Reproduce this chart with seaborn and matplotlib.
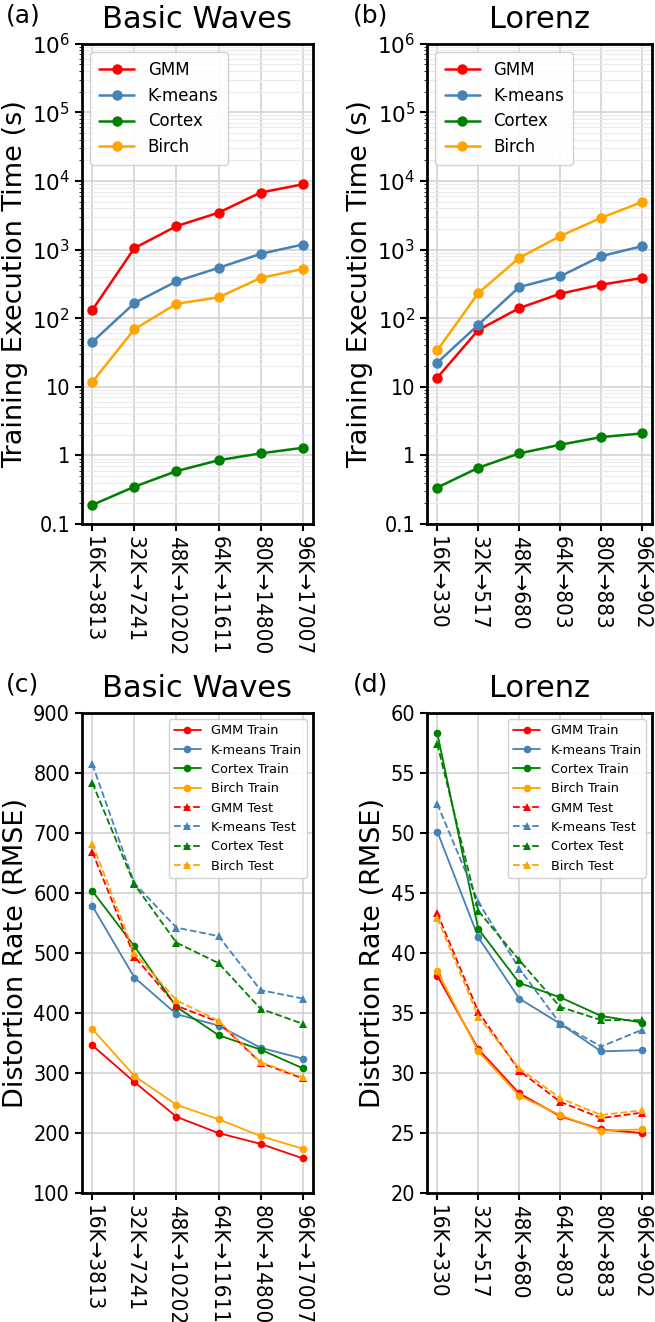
import numpy as np
import pandas as pd
import matplotlib
matplotlib.use("Agg")
import matplotlib.pyplot as plt
import seaborn as sns
from matplotlib.ticker import FixedLocator, FixedFormatter, LogLocator, NullFormatter

sns.set_style("ticks")
plt.rcParams['font.family'] = ['DejaVu Sans']
plt.rcParams['text.color'] = 'black'
plt.rcParams['axes.labelcolor'] = 'black'
plt.rcParams['xtick.color'] = 'black'
plt.rcParams['ytick.color'] = 'black'

# x categories
bw_labels = ["16K→3813", "32K→7241", "48K→10202", "64K→11611", "80K→14800", "96K→17007"]
lz_labels = ["16K→330", "32K→517", "48K→680", "64K→803", "80K→883", "96K→902"]

# training time (s), Basic Waves
bw_time_gmm = [132, 1050, 2190, 3440, 6760, 8900]
bw_time_kmeans = [45, 166, 344, 540, 864, 1180]
bw_time_cortex = [0.19, 0.35, 0.59, 0.85, 1.07, 1.29]
bw_time_birch = [11.8, 69, 162, 201, 385, 520]

# training time (s), Lorenz
lz_time_gmm = [13.6, 67, 140, 227, 307, 385]
lz_time_kmeans = [22.5, 80, 284, 407, 800, 1120]
lz_time_cortex = [0.34, 0.66, 1.07, 1.43, 1.85, 2.09]
lz_time_birch = [34, 232, 755, 1570, 2900, 4920]

# distortion (RMSE), Basic Waves
bw_gmm_train = [346, 285, 227, 200, 182, 158]
bw_kmeans_train = [578, 459, 398, 379, 342, 324]
bw_cortex_train = [603, 511, 410, 363, 339, 308]
bw_birch_train = [373, 295, 247, 223, 195, 174]
bw_gmm_test = [668, 494, 412, 385, 317, 291]
bw_kmeans_test = [814, 616, 542, 528, 438, 424]
bw_cortex_test = [783, 614, 517, 483, 407, 382]
bw_birch_test = [682, 500, 421, 387, 318, 293]

# distortion (RMSE), Lorenz
lz_gmm_train = [38.1, 32.0, 28.3, 26.4, 25.3, 25.0]
lz_kmeans_train = [50.1, 41.3, 36.2, 34.1, 31.8, 31.9]
lz_cortex_train = [58.3, 42.0, 37.5, 36.3, 34.75, 34.2]
lz_birch_train = [38.5, 31.8, 28.1, 26.5, 25.2, 25.3]
lz_gmm_test = [43.3, 35.1, 30.2, 27.6, 26.25, 26.7]
lz_kmeans_test = [52.4, 44.25, 38.7, 34.1, 32.2, 33.6]
lz_cortex_test = [57.4, 43.5, 39.4, 35.5, 34.4, 34.4]
lz_birch_test = [42.9, 34.7, 30.4, 27.9, 26.5, 26.9]

methods = ["GMM", "K-means", "Cortex", "Birch"]
colors = {"GMM": "red", "K-means": "steelblue", "Cortex": "green", "Birch": "orange"}

fig = plt.figure(figsize=(6.55, 13.22), dpi=100)
ax_a = fig.add_axes([0.125, 0.6036, 0.353, 0.3634])
ax_b = fig.add_axes([0.652, 0.6036, 0.344, 0.3634])
ax_c = fig.add_axes([0.125, 0.0975, 0.353, 0.3634])
ax_d = fig.add_axes([0.652, 0.0975, 0.344, 0.3634])


def style_axes(ax, labels):
    ax.set_xticks(range(len(labels)))
    ax.set_xticklabels(labels, rotation=270, fontsize=16, fontstretch='condensed')
    for t in ax.get_yticklabels():
        t.set_fontsize(15.5)
        t.set_fontstretch('condensed')
    ax.set_xlim(-0.25, 5.25)
    ax.grid(True, which='major', color='#d3d3d3', linewidth=1.2)
    for s in ax.spines.values():
        s.set_linewidth(2)
        s.set_color('black')
    ax.tick_params(axis='both', width=1.5, length=5)


def time_panel(ax, series, labels, title, tag):
    x = np.arange(len(labels))
    for m, vals in zip(methods, series):
        df = pd.DataFrame({"x": x, "y": vals})
        sns.lineplot(data=df, x="x", y="y", ax=ax, color=colors[m], marker='o',
                     markersize=7.5, markeredgewidth=0, linewidth=1.8, label=m)
    ax.set_yscale('log')
    ax.set_ylim(0.1, 1e6)
    ticks = [0.1, 1, 10, 1e2, 1e3, 1e4, 1e5, 1e6]
    ax.yaxis.set_major_locator(FixedLocator(ticks))
    ax.yaxis.set_major_formatter(FixedFormatter(
        ["0.1", "1", "10", "$10^2$", "$10^3$", "$10^4$", "$10^5$", "$10^6$"]))
    ax.yaxis.set_minor_locator(LogLocator(base=10, subs=np.arange(2, 10), numticks=20))
    ax.yaxis.set_minor_formatter(NullFormatter())
    ax.grid(True, which='minor', axis='y', color='#ebebeb', linewidth=0.8)
    ax.set_xlabel("")
    ax.set_ylabel("Training Execution Time (s)", fontsize=19.5, labelpad=3)
    ax.set_title(title, fontsize=22, pad=11)
    style_axes(ax, labels)
    ax.legend(loc='upper left', fontsize=12, framealpha=0.9, handlelength=2.1,
              borderpad=0.55, labelspacing=0.46, borderaxespad=0.5)
    ax.text(-0.33, 1.033, tag, transform=ax.transAxes, fontsize=18, ha='left', va='bottom')


def rmse_panel(ax, train, test, labels, title, tag, ylim, yticks):
    x = np.arange(len(labels))
    for m, vals in zip(methods, train):
        df = pd.DataFrame({"x": x, "y": vals})
        sns.lineplot(data=df, x="x", y="y", ax=ax, color=colors[m], marker='o',
                     markersize=5.5, markeredgewidth=0, linewidth=1.3, label=m + " Train")
    for m, vals in zip(methods, test):
        df = pd.DataFrame({"x": x, "y": vals})
        sns.lineplot(data=df, x="x", y="y", ax=ax, color=colors[m], marker='^',
                     markersize=5.5, markeredgewidth=0, linewidth=1.3, linestyle='--',
                     label=m + " Test")
    ax.set_ylim(*ylim)
    ax.set_yticks(yticks)
    ax.set_xlabel("")
    ax.set_ylabel("Distortion Rate (RMSE)", fontsize=19.5, labelpad=3)
    ax.set_title(title, fontsize=22, pad=11)
    style_axes(ax, labels)
    ax.legend(loc='upper right', fontsize=9.3, framealpha=0.9, handlelength=2.1,
              labelspacing=0.49, borderaxespad=0.5)
    ax.text(-0.33, 1.033, tag, transform=ax.transAxes, fontsize=18, ha='left', va='bottom')


time_panel(ax_a, [bw_time_gmm, bw_time_kmeans, bw_time_cortex, bw_time_birch],
           bw_labels, "Basic Waves", "(a)")
time_panel(ax_b, [lz_time_gmm, lz_time_kmeans, lz_time_cortex, lz_time_birch],
           lz_labels, "Lorenz", "(b)")
rmse_panel(ax_c, [bw_gmm_train, bw_kmeans_train, bw_cortex_train, bw_birch_train],
           [bw_gmm_test, bw_kmeans_test, bw_cortex_test, bw_birch_test],
           bw_labels, "Basic Waves", "(c)", (100, 900), range(100, 901, 100))
rmse_panel(ax_d, [lz_gmm_train, lz_kmeans_train, lz_cortex_train, lz_birch_train],
           [lz_gmm_test, lz_kmeans_test, lz_cortex_test, lz_birch_test],
           lz_labels, "Lorenz", "(d)", (20, 60), range(20, 61, 5))

fig.savefig("out.png", dpi=100)
